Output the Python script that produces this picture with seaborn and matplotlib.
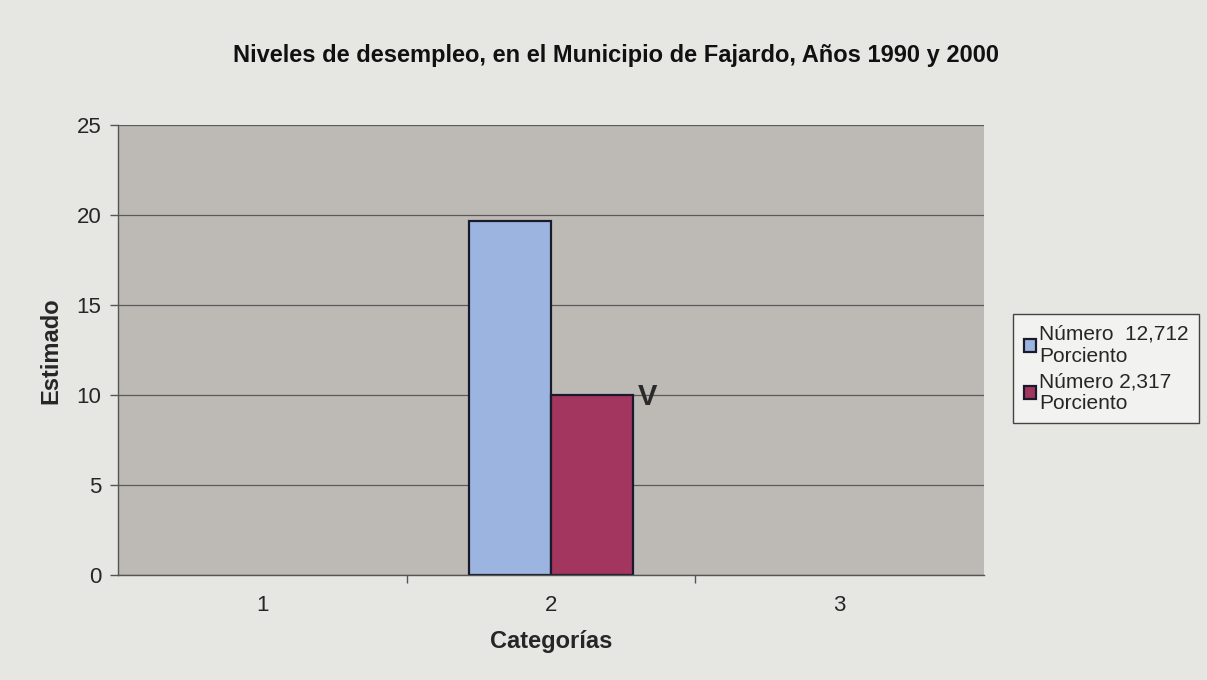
import numpy as np
import pandas as pd
import matplotlib
matplotlib.use("Agg")
import matplotlib.pyplot as plt
import seaborn as sns

categories = ["1", "2", "3"]
series_names = ["Número  12,712\nPorciento", "Número 2,317\nPorciento"]
serie_1990 = [np.nan, 19.7, np.nan]
serie_2000 = [np.nan, 10.0, np.nan]
y_ticks = [0, 5, 10, 15, 20, 25]

df = pd.DataFrame({
    "cat": categories * 2,
    "serie": [series_names[0]] * 3 + [series_names[1]] * 3,
    "val": serie_1990 + serie_2000,
})

sns.set_theme(style="white")
plt.rcParams["font.family"] = ["Liberation Sans", "DejaVu Sans"]

fig = plt.figure(figsize=(12.07, 6.8), dpi=100)
fig.patch.set_facecolor("#e6e6e3")
ax = fig.add_axes([0.098, 0.154, 0.717, 0.662])
ax.set_facecolor("#bdbab6")

bar_width = 0.57
sns.barplot(data=df, x="cat", y="val", hue="serie", order=categories,
            hue_order=series_names, palette=["#9cb4e0", "#a3365f"],
            saturation=1, width=bar_width, edgecolor="#1a1a2a", linewidth=1.6,
            ax=ax, errorbar=None)

ax.set_ylim(0, 25)
ax.set_yticks(y_ticks)
ax.set_xlim(-0.5, 2.5)
ax.yaxis.grid(True, color="#5a5a5a", linewidth=0.9)
ax.set_axisbelow(True)
for s in ["top", "right"]:
    ax.spines[s].set_visible(False)
for s in ["left", "bottom"]:
    ax.spines[s].set_color("#555555")
    ax.spines[s].set_linewidth(1.0)

ax.tick_params(axis="y", which="major", length=6, width=1, color="#555555",
               labelsize=16, direction="out", left=True, pad=6)
ax.tick_params(axis="x", which="major", length=0, labelsize=16, pad=14)
ax.set_xticks([0.5, 1.5], minor=True)
ax.tick_params(axis="x", which="minor", length=6, width=1, color="#555555", bottom=True)

ax.set_xlabel("Categorías", fontsize=17, fontweight="bold", labelpad=10)
ax.set_ylabel("Estimado", fontsize=17, fontweight="bold", labelpad=10)

ax.text(1 + bar_width / 2 + 0.015, serie_2000[1] - 0.85, "V",
        fontsize=21, fontweight="semibold", color="#2a2a2a", ha="left", va="bottom")

fig.suptitle("Niveles de desempleo, en el Municipio de Fajardo, Años 1990 y 2000",
             x=0.51, y=0.935, fontsize=17, fontweight="bold", color="#111111")

handles, labels = ax.get_legend_handles_labels()
ax.legend(handles, labels, loc="upper left", bbox_to_anchor=(0.831, 0.553),
          bbox_transform=fig.transFigure, frameon=True, fancybox=False,
          edgecolor="#444444", facecolor="#f2f2f0", fontsize=15,
          handlelength=0.6, handleheight=0.6, handletextpad=0.15,
          labelspacing=0.3, borderpad=0.5, framealpha=1)

fig.savefig("out.png", dpi=100, facecolor=fig.get_facecolor())
